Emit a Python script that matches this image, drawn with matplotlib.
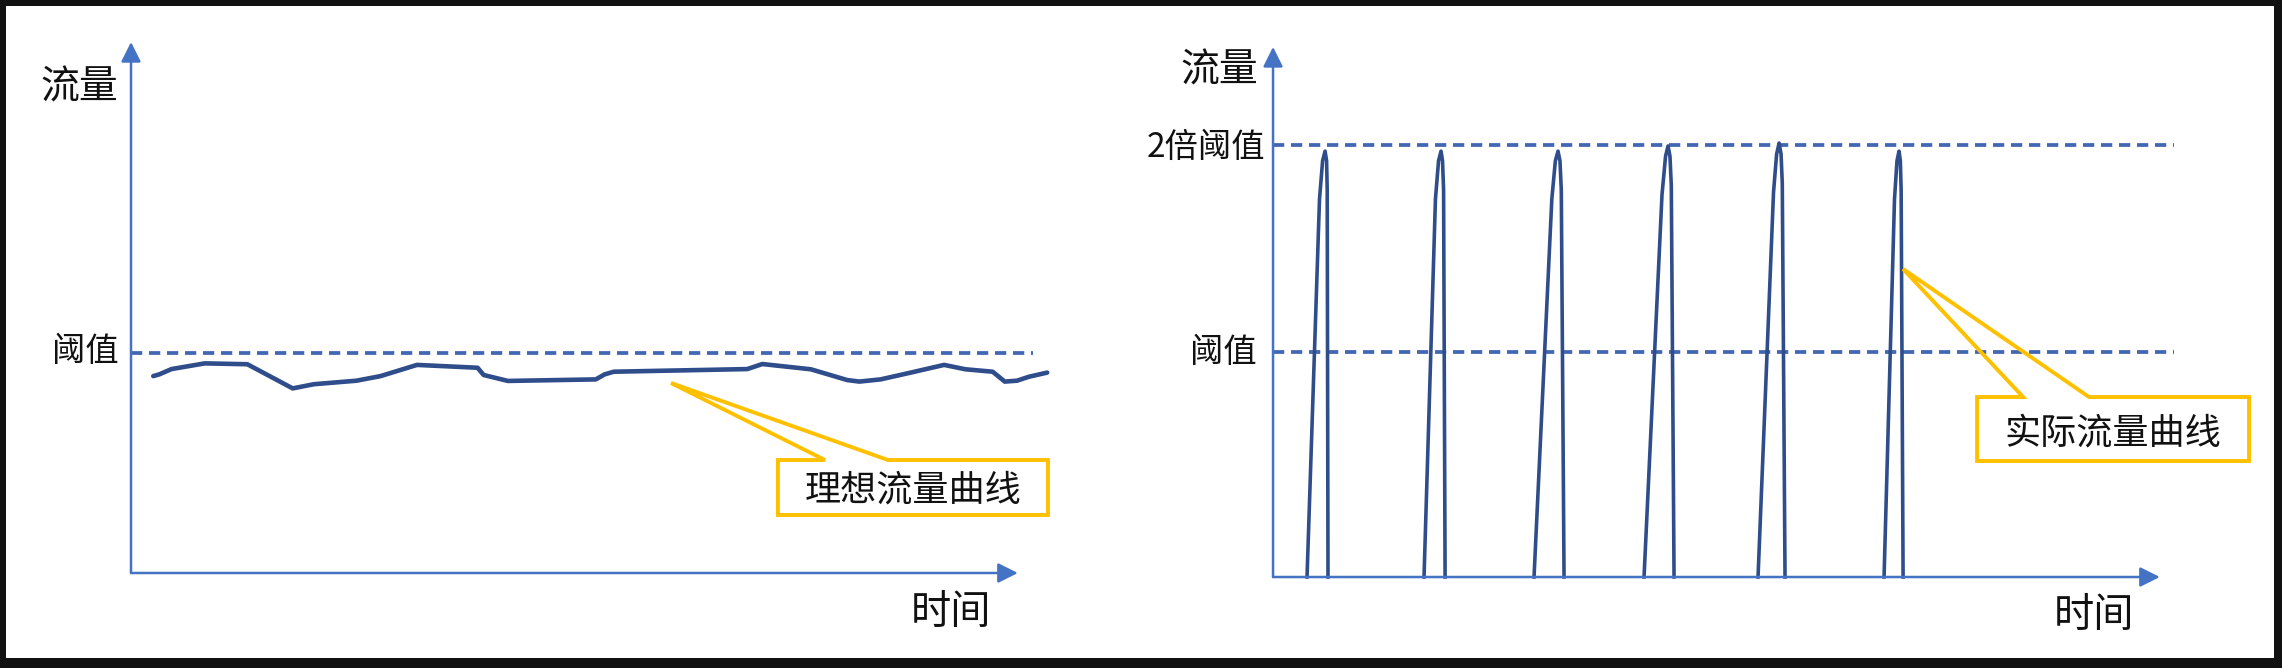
import matplotlib.pyplot as plt
from matplotlib.patches import Polygon

plt.rcParams['font.family'] = ['Noto Sans CJK SC', 'DejaVu Sans']

# ideal flow curve (left panel), time vs flow, threshold = 100
ideal_t = [2.51, 3.20, 4.57, 8.33, 13.13, 18.25, 20.64, 25.44, 28.17, 32.28,
           39.12, 39.80, 42.54, 52.46, 53.47, 54.50, 69.56, 71.26, 76.74, 80.84,
           82.21, 84.60, 87.69, 91.78, 94.19, 97.26, 98.62, 100.0, 101.35, 103.41]
ideal_flow = [89.7, 90.5, 92.9, 95.5, 95.1, 84.1, 86.0, 87.6, 89.7, 94.8,
              93.5, 90.2, 87.5, 88.2, 90.5, 91.7, 92.9, 95.2, 92.8, 87.9,
              87.2, 88.2, 91.0, 94.8, 92.8, 91.7, 87.2, 87.6, 89.4, 91.3]

# actual flow spikes (right panel)
spike_t = [
    [3.84, 5.25, 5.60, 5.88, 6.05, 6.12, 6.21],
    [17.06, 18.35, 18.70, 18.98, 19.15, 19.27, 19.44],
    [29.49, 31.50, 31.90, 32.20, 32.42, 32.57, 32.88],
    [41.92, 43.95, 44.35, 44.63, 44.85, 45.00, 45.31],
    [54.80, 56.55, 56.90, 57.18, 57.40, 57.54, 57.85],
    [69.04, 70.22, 70.50, 70.73, 70.88, 70.97, 71.19],
]
spike_flow = [
    [0, 168, 185, 189.3, 185, 172, 0],
    [0, 168, 185, 189.3, 185, 172, 0],
    [0, 168, 185, 189.3, 185, 172, 0],
    [0, 170, 187, 191.6, 187, 174, 0],
    [0, 171, 188, 192.9, 188, 175, 0],
    [0, 168, 185, 189.3, 185, 172, 0],
]

threshold = 100
double_threshold = 192.0

axis_c = '#4472C4'
dash_c = '#4267B2'
curve_c = '#2F4D8A'
gold = '#FFC000'
text_c = '#111111'

W, H = 2282, 668
fig = plt.figure(figsize=(W / 100, H / 100), dpi=100, facecolor='#111111')


def make_ax(px0, px1, py0, py1, xlim, ylim):
    ax = fig.add_axes([px0 / W, 1 - py1 / H, (px1 - px0) / W, (py1 - py0) / H])
    ax.set_facecolor('white')
    ax.set_xlim(*xlim)
    ax.set_ylim(*ylim)
    ax.set_xticks([])
    ax.set_yticks([])
    for s in ax.spines.values():
        s.set_visible(False)
    return ax


def draw_axes_arrows(ax, xtip, ytip):
    kw = dict(arrowstyle='-|>', color=axis_c, lw=1.8, mutation_scale=30,
              shrinkA=0, shrinkB=0)
    ax.annotate('', xy=(xtip, 0), xytext=(0, 0), arrowprops=kw)
    ax.annotate('', xy=(0, ytip), xytext=(0, 0), arrowprops=kw)


def callout(ax, x0, x1, ytop, ybot, b1, b2, tip, label, tx, ty):
    pts = [(x0, ytop), (b1, ytop), tip, (b2, ytop), (x1, ytop), (x1, ybot), (x0, ybot)]
    ax.add_patch(Polygon(pts, closed=True, facecolor='none', edgecolor=gold,
                         lw=2.8, joinstyle='miter', zorder=5))
    ax.text(tx, ty, label, ha='center', va='center', fontsize=26, color=text_c,
            fontweight='medium', zorder=6)


dash = (0, (3.0, 1.8))
txt = dict(ha='center', va='center', color=text_c, fontweight='medium')

# left panel
ax1 = make_ax(6, 1141, 6, 658, (-14.11, 114.0), (-38.72, 258.3))
draw_axes_arrows(ax1, 100.1, 241.9)
ax1.plot([0, 101.8], [threshold, threshold], color=dash_c, lw=2.7, linestyle=dash)
ax1.plot(ideal_t, ideal_flow, color=curve_c, lw=3.3, solid_joinstyle='round',
         solid_capstyle='round')
ax1.text(-5.87, 221.0, '流量', fontsize=28, **txt)
ax1.text(-5.19, 101.1, '阈值', fontsize=24, **txt)
ax1.text(92.55, -17.8, '时间', fontsize=29, **txt)
callout(ax1, 73.02, 103.50, 51.48, 26.42, 78.33, 85.44, (60.95, 86.56),
        '理想流量曲线', 88.26, 37.4)

# right panel
ax2 = make_ax(1141, 2274, 6, 658, (-14.92, 113.1), (-36.0, 253.8))
draw_axes_arrows(ax2, 100.2, 235.6)
ax2.plot([0, 101.8], [double_threshold, double_threshold], color=dash_c, lw=2.7, linestyle=dash)
ax2.plot([0, 101.8], [threshold, threshold], color=dash_c, lw=2.7, linestyle=dash)
for st, sf in zip(spike_t, spike_flow):
    ax2.plot(st, sf, color=curve_c, lw=2.6, solid_joinstyle='round')
ax2.text(-6.10, 225.3, '流量', fontsize=28, **txt)
ax2.text(-7.57, 191.1, '2倍阈值', fontsize=24, **txt)
ax2.text(-5.65, 100.0, '阈值', fontsize=24, **txt)
ax2.text(92.77, -17.3, '时间', fontsize=29, **txt)
callout(ax2, 79.55, 110.28, 80.0, 51.56, 84.75, 92.20, (71.19, 136.9),
        '实际流量曲线', 94.92, 64.0)

fig.savefig('out.png', dpi=100, facecolor=fig.get_facecolor())
